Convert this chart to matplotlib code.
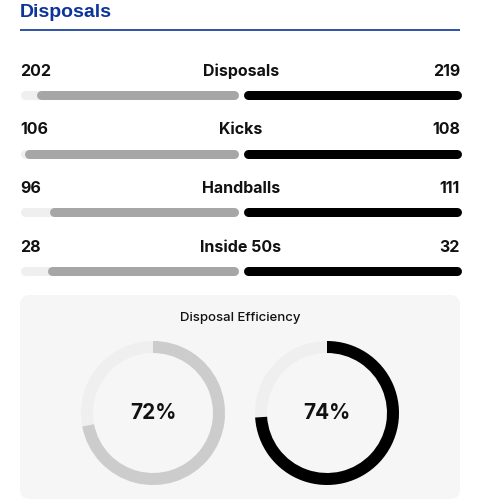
import matplotlib
matplotlib.use("Agg")
import matplotlib.pyplot as plt
from matplotlib.patches import Wedge, FancyBboxPatch

plt.rcParams['font.family'] = ['Inter', 'DejaVu Sans']

title = "Disposals"
stats = ["Disposals", "Kicks", "Handballs", "Inside 50s"]
home = [202, 106, 96, 28]
away = [219, 108, 111, 32]

eff_title = "Disposal Efficiency"
efficiency = [72, 74]
eff_colors = ["#cccccc", "#000000"]

blue = "#0b3399"
track = "#efefef"
home_col = "#a6a6a6"
away_col = "#000000"

fig = plt.figure(figsize=(4.8, 5.0), dpi=100)
ax = fig.add_axes([0, 0, 1, 1])
ax.set_xlim(0, 480)
ax.set_ylim(500, 0)
ax.axis("off")

# header
ax.text(20, 17, title, fontsize=14, fontweight="bold", color=blue, va="baseline", ha="left",
        family=["Liberation Sans", "DejaVu Sans"])
ax.plot([20, 460], [30, 30], color=blue, lw=1.2, solid_capstyle="butt")

left, mid, right = 20, 240.5, 460
half = mid - 2.5 - left
lw_px = 9
lw = lw_px * 72 / 100
cap = lw_px / 2

row_y = 76
for name, h, a in zip(stats, home, away):
    ax.text(left, row_y, str(h), fontsize=11.5, fontweight="bold", va="baseline", ha="left", color="#111111")
    ax.text(right, row_y, str(a), fontsize=11.5, fontweight="bold", va="baseline", ha="right", color="#111111")
    ax.text(241, row_y, name, fontsize=11.5, fontweight="bold", va="baseline", ha="center", color="#111111")
    by = row_y + 19
    top = max(h, a)
    # home (left) side
    ax.plot([left + cap, mid - 2.5 - cap], [by, by], color=track, lw=lw, solid_capstyle="round")
    start = mid - 2.5 - half * h / top
    ax.plot([start + cap, mid - 2.5 - cap], [by, by], color=home_col, lw=lw, solid_capstyle="round")
    # away (right) side
    ax.plot([mid + 2.5 + cap, right - cap], [by, by], color=track, lw=lw, solid_capstyle="round")
    end = mid + 2.5 + half * a / top
    ax.plot([mid + 2.5 + cap, end - cap], [by, by], color=away_col, lw=lw, solid_capstyle="round")
    row_y += 58.5

# efficiency panel
panel = FancyBboxPatch((20, 295), 440, 204, boxstyle="round,pad=0,rounding_size=10",
                       facecolor="#f6f6f6", edgecolor="none")
ax.add_patch(panel)
ax.text(240, 318, eff_title, fontsize=9.5, fontweight="medium", ha="center", va="center", color="#111111")

centers = [153, 327]
cy = 413
r_out, width = 72, 12
for cx, val, col in zip(centers, efficiency, eff_colors):
    ax.add_patch(Wedge((cx, cy), r_out, 0, 360, width=width, facecolor=track, edgecolor="none"))
    # y axis inverted: positive angle goes clockwise on screen, 0 at right, -90 at top
    ax.add_patch(Wedge((cx, cy), r_out, -90, -90 + 360 * val / 100, width=width,
                       facecolor=col, edgecolor="none"))
    ax.text(cx, cy, f"{val}%", fontsize=15, fontweight="bold", ha="center", va="center", color="#111111")

fig.savefig("out.png", dpi=100)
